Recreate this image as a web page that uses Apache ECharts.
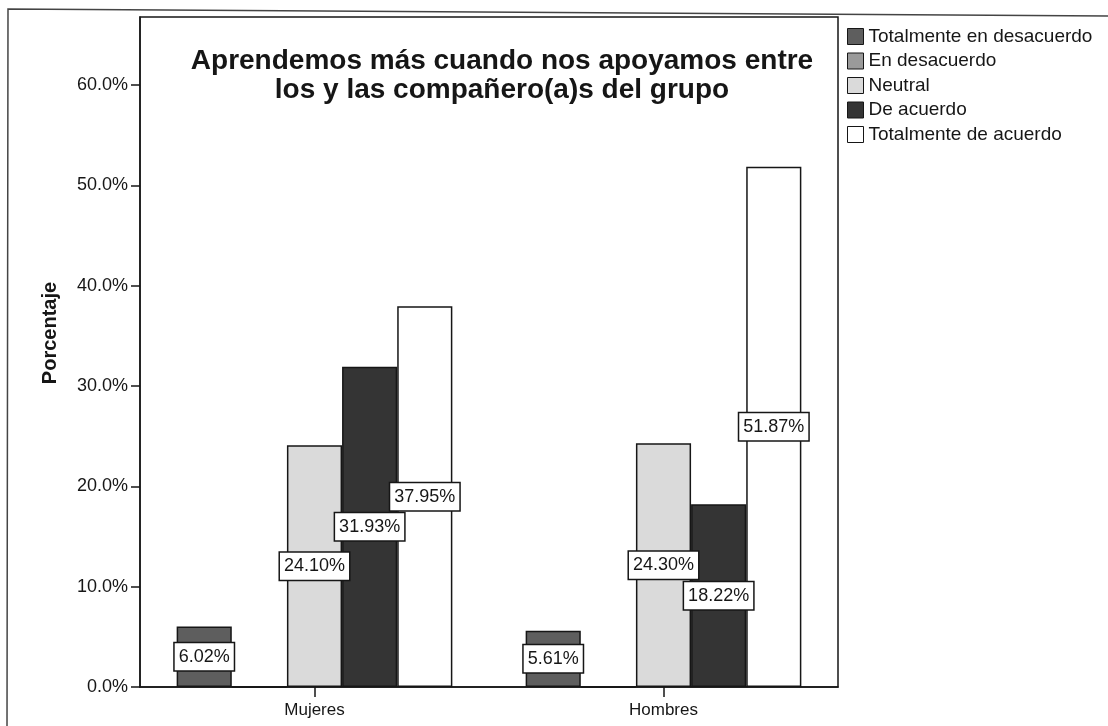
<!DOCTYPE html>
<html>
<head>
<meta charset="utf-8">
<script src="https://cdn.jsdelivr.net/npm/echarts@6/dist/echarts.min.js"></script>
<style>
  html, body { margin: 0; padding: 0; background: #ffffff; }
  #chart { width: 1108px; height: 726px; }
</style>
</head>
<body>
<div id="chart"></div>
<script>
// Survey responses by group (percent of respondents)
const categories = ['Mujeres', 'Hombres'];
const seriesNames = [
  'Totalmente en desacuerdo',
  'En desacuerdo',
  'Neutral',
  'De acuerdo',
  'Totalmente de acuerdo'
];
const totalmenteDesacuerdo = [6.02, 5.61];
const enDesacuerdo = [0, 0];
const neutral = [24.10, 24.30];
const deAcuerdo = [31.93, 18.22];
const totalmenteAcuerdo = [37.95, 51.87];
const yTicks = [0, 10, 20, 30, 40, 50, 60];

const FONT = '"Liberation Sans", Arial, sans-serif';
const INK = '#161616';

const fills = ['#5e5e5e', '#9a9a9a', '#dadada', '#343434', '#ffffff'];
const values = [totalmenteDesacuerdo, enDesacuerdo, neutral, deAcuerdo, totalmenteAcuerdo];

const chart = echarts.init(document.getElementById('chart'), null, { renderer: 'canvas' });

const series = seriesNames.map((name, i) => ({
  name: name,
  type: 'bar',
  data: values[i],
  barGap: '0%',
  barCategoryGap: '21%',
  itemStyle: { color: fills[i], borderColor: INK, borderWidth: 1.5 },
  label: {
    show: i !== 1,
    position: 'inside',
    formatter: p => p.value.toFixed(2) + '%',
    fontFamily: FONT,
    fontSize: 18,
    color: INK,
    backgroundColor: '#ffffff',
    borderColor: INK,
    borderWidth: 1.5,
    padding: [5, 4, 4, 4]
  },
  emphasis: { disabled: true }
}));

chart.setOption({
  backgroundColor: '#ffffff',
  animation: false,
  title: {
    text: 'Aprendemos más cuando nos apoyamos entre\nlos y las compañero(a)s del grupo',
    left: 497,
    top: 42,
    textAlign: 'center',
    textStyle: {
      fontFamily: FONT,
      fontSize: 28,
      fontWeight: 'bold',
      lineHeight: 29,
      color: INK
    }
  },
  legend: {
    orient: 'vertical',
    left: 842,
    top: 22,
    itemWidth: 16,
    itemHeight: 16,
    itemGap: 5.5,
    icon: 'rect',
    selectedMode: false,
    data: seriesNames,
    itemStyle: { borderColor: INK, borderWidth: 1 },
    textStyle: { fontFamily: FONT, fontSize: 19, color: INK }
  },
  grid: {
    left: 140,
    right: 270,
    top: 17,
    bottom: 39,
    show: true,
    borderColor: INK,
    borderWidth: 1.5,
    backgroundColor: 'transparent'
  },
  xAxis: {
    type: 'category',
    data: categories,
    axisLine: { show: true, lineStyle: { color: INK, width: 1.5 } },
    axisTick: { show: true, alignWithLabel: true, length: 10, lineStyle: { color: INK, width: 1.5 } },
    axisLabel: { fontFamily: FONT, fontSize: 17, color: INK, margin: 15 },
    splitLine: { show: false }
  },
  yAxis: {
    type: 'value',
    min: 0,
    max: 66.8,
    interval: 10,
    axisLine: { show: true, lineStyle: { color: INK, width: 1.5 } },
    axisTick: { show: true, length: 9, customValues: yTicks, lineStyle: { color: INK, width: 1.5 } },
    axisLabel: {
      fontFamily: FONT,
      fontSize: 18,
      color: INK,
      margin: 12,
      customValues: yTicks,
      formatter: v => v.toFixed(1) + '%'
    },
    splitLine: { show: false }
  },
  graphic: [
    {
      type: 'text',
      x: 50,
      y: 333,
      rotation: Math.PI / 2,
      style: {
        text: 'Porcentaje',
        fontFamily: FONT,
        fontSize: 20,
        fontWeight: 'bold',
        fill: INK,
        align: 'center',
        verticalAlign: 'middle'
      }
    },
    {
      type: 'polyline',
      shape: { points: [[7, 726], [8, 9], [1108, 16]] },
      style: { stroke: '#444', lineWidth: 1.5, fill: null }
    }
  ],
  series: series
});
</script>
</body>
</html>
